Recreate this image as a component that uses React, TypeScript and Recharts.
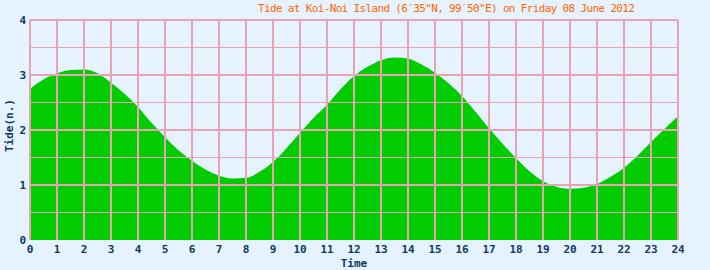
import React from 'react';
import { AreaChart, Area, XAxis, YAxis, ReferenceLine } from 'recharts';

// tide height (n.) read every half hour, 00:00 .. 24:00
const hours = [
  0, 0.5, 1, 1.5, 2, 2.5, 3, 3.5, 4, 4.5, 5, 5.5, 6, 6.5, 7, 7.5, 8, 8.5, 9, 9.5,
  10, 10.5, 11, 11.5, 12, 12.5, 13, 13.5, 14, 14.5, 15, 15.5, 16, 16.5, 17, 17.5,
  18, 18.5, 19, 19.5, 20, 20.5, 21, 21.5, 22, 22.5, 23, 23.5, 24,
];
const tide = [
  2.75, 2.92, 3.03, 3.09, 3.1, 3.03, 2.86, 2.66, 2.42, 2.13, 1.87, 1.63, 1.44, 1.28, 1.17, 1.12, 1.13, 1.24, 1.42, 1.67,
  1.95, 2.22, 2.46, 2.74, 2.98, 3.15, 3.27, 3.32, 3.3, 3.19, 3.04, 2.85, 2.62, 2.33, 2.03, 1.75,
  1.49, 1.25, 1.07, 0.97, 0.93, 0.95, 1.02, 1.15, 1.31, 1.53, 1.78, 2.02, 2.25,
];
const xTicks = [0, 1, 2, 3, 4, 5, 6, 7, 8, 9, 10, 11, 12, 13, 14, 15, 16, 17, 18, 19, 20, 21, 22, 23, 24];
const yTicks = [0, 1, 2, 3, 4];
const yMajor = [1, 2, 3, 4];
const yMinor = [0.5, 1.5, 2.5, 3.5];

const title = 'Tide at Koi-Noi Island (6\u203235"N, 99\u203250"E) on Friday 08 June 2012';

const BG = '#e6f2fd';
const GRID = '#e9a3b5';
const NAVY = '#0a3868';
const FONT = '"DejaVu Sans Mono", monospace';

const data = hours.map((t, i) => ({ t, tide: tide[i] }));

export default function App() {
  return (
    <div style={{ position: 'absolute', left: 0, top: 0, width: 710, height: 270, background: BG }}>
      <div
        style={{
          position: 'absolute',
          left: 258,
          top: 2,
          fontFamily: FONT,
          fontSize: 11,
          letterSpacing: -0.65,
          color: '#ff6600',
          whiteSpace: 'nowrap',
          lineHeight: '14px',
        }}
      >
        {title}
      </div>
      <AreaChart width={710} height={270} data={data} margin={{ top: 20, right: 32, left: 0, bottom: 0 }}>
        <XAxis
          dataKey="t"
          type="number"
          domain={[0, 24]}
          ticks={xTicks}
          interval={0}
          axisLine={false}
          tickLine={false}
          tickSize={0}
          tickMargin={5}
          height={30}
          tick={{ fill: NAVY, fontFamily: FONT, fontSize: 11, fontWeight: 'bold' }}
          label={{ value: 'Time', position: 'insideBottom', offset: 3, fill: NAVY, fontFamily: FONT, fontSize: 11, fontWeight: 'bold' }}
        />
        <YAxis
          type="number"
          domain={[0, 4]}
          ticks={yTicks}
          interval={0}
          axisLine={false}
          tickLine={false}
          tickSize={0}
          tickMargin={4}
          width={30}
          tick={{ fill: NAVY, fontFamily: FONT, fontSize: 11, fontWeight: 'bold' }}
          label={{ value: 'Tide(n.)', angle: -90, position: 'insideLeft', offset: 9, dy: 22, fill: NAVY, fontFamily: FONT, fontSize: 11, fontWeight: 'bold' }}
        />
        <Area
          type="monotone"
          dataKey="tide"
          stroke="none"
          fill="#00cc00"
          fillOpacity={1}
          baseValue={0}
          isAnimationActive={false}
        />
        {yMinor.map((v) => (
          <ReferenceLine key={'m' + v} y={v} stroke={GRID} strokeWidth={1} />
        ))}
        {yMajor.map((v) => (
          <ReferenceLine key={'M' + v} y={v} stroke={GRID} strokeWidth={2} />
        ))}
        {xTicks.map((v) => (
          <ReferenceLine key={'x' + v} x={v} stroke={GRID} strokeWidth={2} />
        ))}
      </AreaChart>
    </div>
  );
}
